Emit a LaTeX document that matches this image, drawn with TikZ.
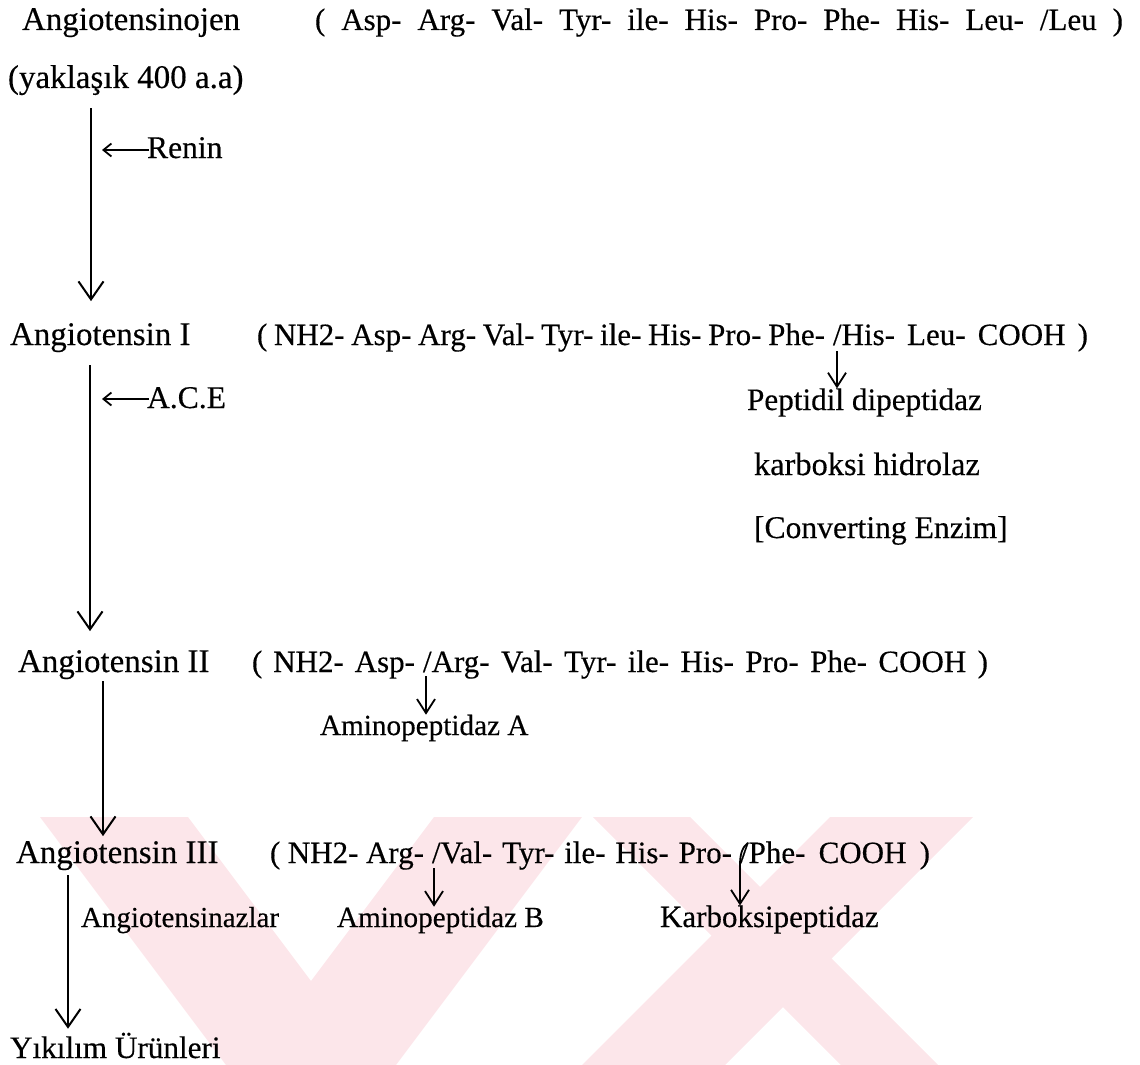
\documentclass[tikz,border=0pt]{standalone}
\usepackage{fontspec}
\setmainfont{Liberation Serif}[FakeBold=0.35]
\usetikzlibrary{arrows.meta,calc}
\definecolor{wmpink}{RGB}{252,230,234}
\begin{document}
\begin{tikzpicture}[x=0.5pt,y=-0.5pt,
  lbl/.style={anchor=base west, inner sep=0pt, outer sep=0pt, text=black},
  namef/.style={lbl, font=\fontsize{16.5}{20}\selectfont},
  pepf/.style={lbl, font=\fontsize{15.5}{19}\selectfont},
  enzf/.style={lbl, font=\fontsize{15.8}{19}\selectfont},
  enzsf/.style={lbl, font=\fontsize{14.6}{18}\selectfont},
  mainarr/.style={line width=1pt, -{Straight Barb[length=9pt,width=12.5pt,line width=1pt]}},
  smallarr/.style={line width=0.9pt, -{Straight Barb[length=7pt,width=9pt,line width=0.9pt]}},
  sidearr/.style={line width=0.9pt, -{Straight Barb[length=4pt,width=6.5pt,line width=0.9pt]}},
  wm/.style={fill=wmpink, draw=none}]
\useasboundingbox (0,0) rectangle (1140,1065);
% watermark
\fill[wm] (40,817) -- (188,817) -- (374,1065) -- (226,1065) -- cycle;
\fill[wm] (434,817) -- (582,817) -- (396,1065) -- (248,1065) -- cycle;
\fill[wm] (593,817) -- (690,817) -- (938,1065) -- (841,1065) -- cycle;
\fill[wm] (830,817) -- (973,817) -- (725,1065) -- (582,1065) -- cycle;
% lanes
\coordinate (lane1) at (91,0);
\coordinate (lane2) at (90,0);
\coordinate (lane3) at (103,0);
\coordinate (lane4) at (68,0);
% line 1
\node[namef] (ajen) at (22,30) {Angiotensinojen};
\node[pepf] (p1) at (315,30) {\makebox[404pt][s]{( Asp- Arg- Val- Tyr- ile- His- Pro- Phe- His- Leu- /Leu )}};
\node[namef] (yak) at (8,88) {(yaklaşık 400 a.a)};
\node[enzf] (renin) at (147,158) {Renin};
% line 3
\node[namef] (a1) at (10,345) {Angiotensin I};
\node[pepf] (p3a) at (257,345) {\makebox[284pt][s]{( NH2- Asp- Arg- Val- Tyr- ile- His- Pro- Phe-}};
\node[pepf] (p3b) at ([xshift=4pt]p3a.base east) {\makebox[127.5pt][s]{/His- Leu- COOH )}};
\node[enzf] (ace) at (147,408) {A.C.E};
\node[enzf, font=\fontsize{15.6}{19}\selectfont] (pep) at (747,410) {Peptidil dipeptidaz};
\node[enzf, font=\fontsize{16.2}{19}\selectfont] (karbh) at (754,475) {karboksi hidrolaz};
\node[enzf] (conv) at (754,538) {[Converting Enzim]};
% line 4
\node[namef] (a2) at (18,672) {Angiotensin II};
\node[pepf] (p4a) at (252,672) {\makebox[81.5pt][s]{( NH2- Asp-}};
\node[pepf] (p4b) at ([xshift=4pt]p4a.base east) {\makebox[282.5pt][s]{/Arg- Val- Tyr- ile- His- Pro- Phe- COOH )}};
\node[enzsf] (apa) at (320,735) {Aminopeptidaz A};
% line 5
\node[namef] (a3) at (16,863) {Angiotensin III};
\node[pepf] (p5a) at (270,863) {\makebox[77pt][s]{( NH2- Arg-}};
\node[pepf] (p5b) at ([xshift=4pt]p5a.base east) {\makebox[150pt][s]{/Val- Tyr- ile- His- Pro-}};
\node[pepf] (p5c) at ([xshift=4pt]p5b.base east) {\makebox[95pt][s]{/Phe- COOH )}};
\node[enzsf, font=\fontsize{14.5}{18}\selectfont] (azlar) at (81,927) {Angiotensinazlar};
\node[enzsf] (apb) at (337,927) {Aminopeptidaz B};
\node[enzf, font=\fontsize{15.5}{19}\selectfont] (karb) at (660,927) {Karboksipeptidaz};
\node[enzf, font=\fontsize{15.6}{19}\selectfont] (yik) at (10,1058) {Yıkılım Ürünleri};
% slash points and side-arrow tails
\coordinate (sHis) at ($(p3b.base west)+(4,6)$);
\coordinate (sArg) at ($(p4b.base west)+(3,4)$);
\coordinate (sVal) at ($(p5b.base west)+(2,5)$);
\coordinate (sPheT) at ($(p5c.base west)+(8,-20)$);
\coordinate (sPheB) at ($(p5c.base west)+(0,2)$);
\coordinate (rnT) at ($(renin.base west)+(2,-8)$);
\coordinate (acT) at ($(ace.base west)+(2,-9)$);
% main arrows
\draw[mainarr, shorten <=6.5pt, shorten >=11pt] (yak.south -| lane1) -- (a1.north -| lane1);
\draw[mainarr, shorten <=6.5pt, shorten >=9.5pt] (a1.south -| lane2) -- (a2.north -| lane2);
\draw[mainarr, shorten <=1pt, shorten >=2.5pt] (a2.south -| lane3) -- (a3.north -| lane3);
\draw[mainarr, shorten <=2.5pt, shorten >=2pt] (a3.south -| lane4) -- (yik.north -| lane4);
% side arrows
\draw[sidearr, shorten >=5.5pt] (rnT) -- (rnT -| lane1);
\draw[sidearr, shorten >=6pt] (acT) -- (acT -| lane2);
% cleavage arrows
\draw[smallarr] (sHis) -- (sHis |- pep.north);
\draw[smallarr] (sArg) -- (sArg |- apa.north);
\draw[smallarr] (sVal) -- (sVal |- apb.north);
\draw[smallarr] (sPheT) .. controls ($(sPheT)+(-6,4)$) and ($(sPheB)+(0,-10)$) .. (sPheB) -- (sPheB |- karb.north);
\end{tikzpicture}
\end{document}
